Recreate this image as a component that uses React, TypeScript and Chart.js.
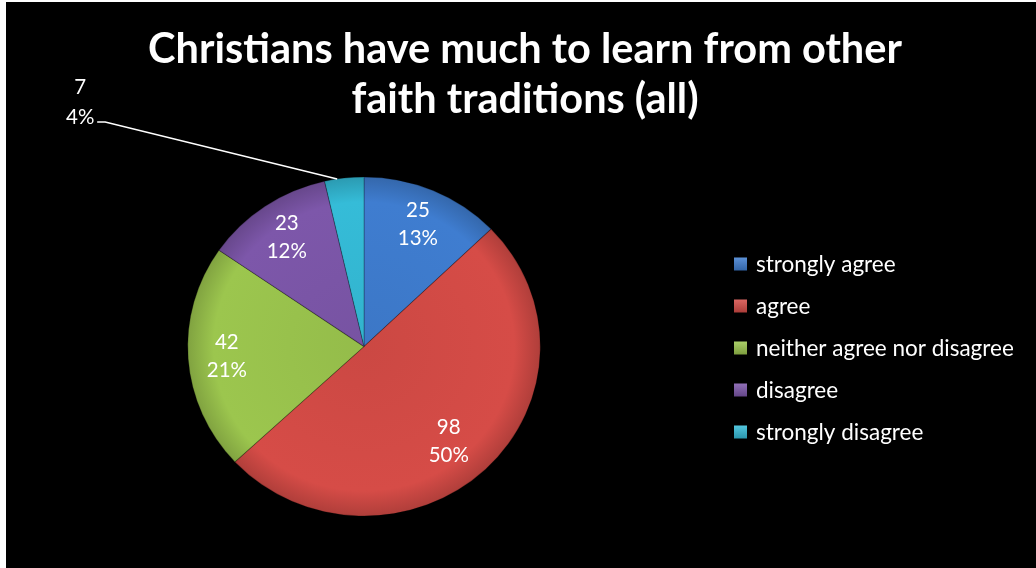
import { useEffect, useRef } from "react";
import { Chart, registerables } from "chart.js";

Chart.register(...registerables);

const TITLE_LINES = ["Christians have much to learn from other", "faith traditions (all)"];
const CATEGORIES = [
  "strongly agree",
  "agree",
  "neither agree nor disagree",
  "disagree",
  "strongly disagree",
];
const COUNTS = [25, 98, 42, 23, 7];
const PERCENT_LABELS = ["13%", "50%", "21%", "12%", "4%"];
const COLORS = ["#3f7dd0", "#d64c47", "#9cc64e", "#7d57aa", "#35bcd8"];

const FONT = "Lato, 'Open Sans', sans-serif";
const STRETCH_X = 1.04;

function mix(hex: string, target: number, amt: number): string {
  const n = parseInt(hex.slice(1), 16);
  const r = (n >> 16) & 255, g = (n >> 8) & 255, b = n & 255;
  const f = (c: number) => Math.round(c + (target - c) * amt);
  return `rgb(${f(r)},${f(g)},${f(b)})`;
}

const decorPlugin = {
  id: "decor",
  beforeDatasetsDraw(chart: any) {
    const { ctx, chartArea } = chart;
    const cx = (chartArea.left + chartArea.right) / 2;
    ctx.save();
    ctx.translate(cx, 0);
    ctx.scale(STRETCH_X, 1);
    ctx.translate(-cx, 0);
  },
  afterDatasetsDraw(chart: any) {
    const { ctx } = chart;
    ctx.restore();
    const meta = chart.getDatasetMeta(0);
    const data = chart.data.datasets[0].data as number[];
    const total = data.reduce((a, b) => a + b, 0);
    ctx.save();
    ctx.fillStyle = "#ffffff";
    ctx.font = `20.5px ${FONT}`;
    ctx.textAlign = "center";
    ctx.textBaseline = "middle";
    meta.data.forEach((arc: any, i: number) => {
      const { x, y, startAngle, endAngle, outerRadius } = arc.getProps(
        ["x", "y", "startAngle", "endAngle", "outerRadius"],
        true
      );
      const mid = (startAngle + endAngle) / 2;
      const frac = data[i] / total;
      if (frac >= 0.05) {
        const r = outerRadius * (frac > 0.4 ? 0.74 : 0.78);
        const a = frac > 0.4 ? mid + 0.05 : mid;
        const px = x + Math.cos(a) * r * STRETCH_X;
        const py = y + Math.sin(a) * r;
        ctx.fillText(String(data[i]), px, py - 14);
        ctx.fillText(PERCENT_LABELS[i], px, py + 14);
      } else {
        const ex = x + Math.cos(mid - 0.04) * outerRadius * STRETCH_X;
        const ey = y + Math.sin(mid - 0.04) * outerRadius;
        const elx = ex - 232;
        const ely = ey - 57;
        ctx.strokeStyle = "#ffffff";
        ctx.lineWidth = 1.5;
        ctx.beginPath();
        ctx.moveTo(ex, ey);
        ctx.lineTo(elx, ely);
        ctx.lineTo(elx - 8, ely);
        ctx.stroke();
        ctx.fillText(String(data[i]), elx - 25, ely - 35);
        ctx.fillText(PERCENT_LABELS[i], elx - 25, ely - 5);
      }
    });
    ctx.restore();
  },
  afterDraw(chart: any) {
    const { ctx, chartArea } = chart;
    ctx.save();
    // title
    ctx.fillStyle = "#ffffff";
    ctx.textAlign = "center";
    ctx.textBaseline = "alphabetic";
    ctx.font = `bold 41.5px ${FONT}`;
    TITLE_LINES.forEach((line, i) => ctx.fillText(line, 519, 61 + i * 50));
    // legend
    const cy = (chartArea.top + chartArea.bottom) / 2 + 1.5;
    const labels = chart.data.labels as string[];
    const colors = chart.data.datasets[0].baseColors as string[];
    ctx.textAlign = "left";
    ctx.textBaseline = "middle";
    ctx.font = `22.5px ${FONT}`;
    labels.forEach((lab, i) => {
      const rowY = cy + (i - (labels.length - 1) / 2) * 42;
      const bx = 728, bs = 13;
      const g = ctx.createLinearGradient(0, rowY - bs / 2, 0, rowY + bs / 2);
      g.addColorStop(0, mix(colors[i], 255, 0.15));
      g.addColorStop(1, mix(colors[i], 0, 0.2));
      ctx.fillStyle = g;
      ctx.fillRect(bx, rowY - bs / 2, bs, bs);
      ctx.fillStyle = "#ffffff";
      ctx.fillText(lab, 750, rowY + 1);
    });
    ctx.restore();
  },
};

export default function App() {
  const ref = useRef<HTMLCanvasElement>(null);
  useEffect(() => {
    document.body.style.margin = "0";
    const chart = new Chart(ref.current as HTMLCanvasElement, {
      type: "pie",
      data: {
        labels: CATEGORIES,
        datasets: [
          {
            data: COUNTS,
            baseColors: COLORS,
            backgroundColor: (c: any) => {
              const base = COLORS[c.dataIndex % COLORS.length];
              const area = c.chart.chartArea;
              if (!area) return base;
              const cx = (area.left + area.right) / 2;
              const cy = (area.top + area.bottom) / 2;
              const r = (area.bottom - area.top) / 2;
              const g = c.chart.ctx.createRadialGradient(cx, cy, 0, cx, cy, r);
              g.addColorStop(0, mix(base, 0, 0.05));
              g.addColorStop(0.85, base);
              g.addColorStop(1, mix(base, 0, 0.18));
              return g;
            },
            borderColor: "rgba(0,0,0,0.25)",
            borderWidth: 1,
          } as any,
        ],
      },
      options: {
        animation: false,
        responsive: false,
        devicePixelRatio: 1,
        layout: { padding: { left: 188, right: 502, top: 174.5, bottom: 51.5 } },
        plugins: {
          legend: { display: false },
          title: { display: false },
          tooltip: { enabled: false },
        },
      },
      plugins: [decorPlugin],
    });
    return () => chart.destroy();
  }, []);
  return (
    <div
      style={{
        width: 1036,
        height: 568,
        background: "#ffffff",
        position: "relative",
        overflow: "hidden",
      }}
    >
      <canvas
        ref={ref}
        width={1030}
        height={566}
        style={{ position: "absolute", left: 6, top: 2, width: 1030, height: 566, background: "#000000" }}
      />
    </div>
  );
}
